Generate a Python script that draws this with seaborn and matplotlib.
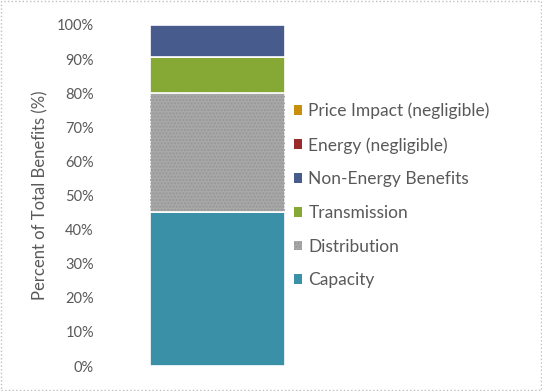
import numpy as np
import pandas as pd
import seaborn as sns
import matplotlib.pyplot as plt
from matplotlib.patches import Patch, Rectangle

# bottom -> top stacking order
components = ["Capacity", "Distribution", "Transmission", "Non-Energy Benefits",
              "Energy (negligible)", "Price Impact (negligible)"]
shares = [45.2, 35.0, 10.5, 9.3, 0.0, 0.0]
colors = ["#3A90A6", "#A8A8A8", "#86A935", "#475B8D", "#9A2B2B", "#C98F0C"]
yticks = [0, 10, 20, 30, 40, 50, 60, 70, 80, 90, 100]

sns.set_theme(style="white")
plt.rcParams["font.family"] = ["Lato", "DejaVu Sans"]
text_color = "#595959"

df = pd.DataFrame({"component": components, "share": shares, "color": colors})
df["bottom"] = df["share"].cumsum() - df["share"]
df["x"] = ""

fig = plt.figure(figsize=(5.42, 3.91), dpi=100)
ax = fig.add_axes([105 / 542, 25 / 391, 225 / 542, 341 / 391])

for _, row in df.iterrows():
    if row["share"] <= 0:
        continue
    sns.barplot(data=row.to_frame().T, x="x", y="share", bottom=row["bottom"],
                color=row["color"], saturation=1, width=0.6, ax=ax,
                edgecolor="white", linewidth=1.2)
    if row["component"] == "Distribution":
        # dotted texture overlay
        sns.barplot(data=row.to_frame().T, x="x", y="share", bottom=row["bottom"],
                    color="none", saturation=1, width=0.6, ax=ax, fill=False,
                    edgecolor="#979797", linewidth=0, hatch=".....")

ax.set_xlim(-0.5, 0.5)
ax.set_ylim(0, 100)
ax.set_yticks(yticks)
ax.set_yticklabels([f"{t}%" for t in yticks], fontsize=10.5, color=text_color)
ax.set_xticks([])
ax.set_xlabel("")
ax.set_ylabel("Percent of Total Benefits (%)", fontsize=12, color=text_color, labelpad=6)
ax.tick_params(axis="y", length=0, pad=8)
sns.despine(ax=ax, left=True, bottom=True)

handles = []
for comp, col in zip(components, colors):
    if comp == "Distribution":
        handles.append(Patch(facecolor=col, edgecolor="#979797", hatch=".....", linewidth=0, label=comp))
    else:
        handles.append(Patch(facecolor=col, linewidth=0, label=comp))
leg = fig.legend(handles=handles[::-1], loc="center left", bbox_to_anchor=(278 / 542, 0.50),
                 frameon=False, fontsize=12.5, handlelength=0.5, handleheight=0.5,
                 handletextpad=0.35, labelspacing=1.02)
for t in leg.get_texts():
    t.set_color(text_color)

fig.patches.append(Rectangle((0.002, 0.002), 0.996, 0.996, transform=fig.transFigure,
                             fill=False, edgecolor="#BFBFBF", linestyle=":", linewidth=1))

fig.savefig("out.png", dpi=100)
